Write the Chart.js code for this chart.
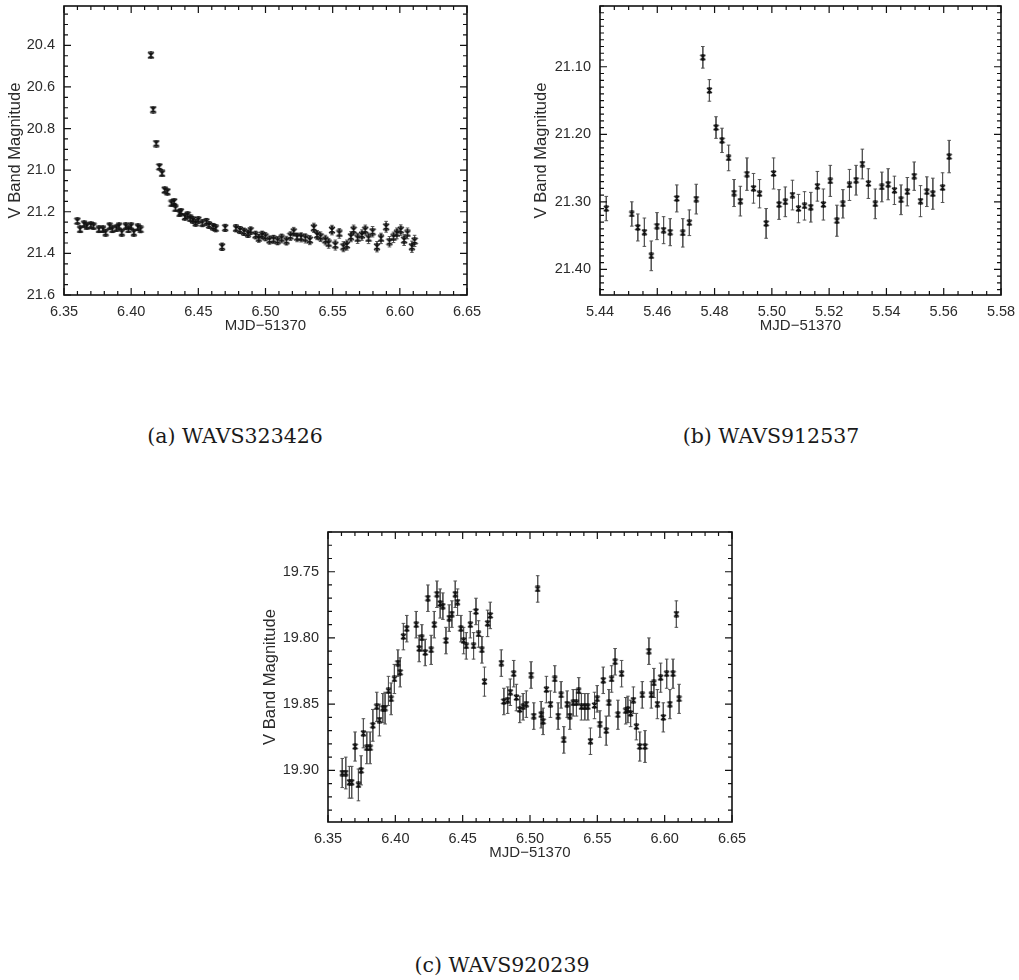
<!DOCTYPE html>
<html>
<head>
<meta charset="utf-8">
<script src="https://cdn.jsdelivr.net/npm/chart.js@4.4.1/dist/chart.umd.min.js"></script>
<style>
  body { margin: 0; background: #fff; width: 1019px; height: 980px; position: relative; overflow: hidden; }
  canvas { position: absolute; }
  .cap { position: absolute; font-family: "DejaVu Serif"; font-size: 20.5px; color: #1a1a1a;
         transform: translate(-50%, -50%); white-space: nowrap; }
</style>
</head>
<body>
<canvas id="lcA" width="489" height="335" style="left:0px;top:0px"></canvas>
<canvas id="lcB" width="499" height="335" style="left:520px;top:0px"></canvas>
<canvas id="lcC" width="504" height="336" style="left:250px;top:526px"></canvas>
<div class="cap" style="left:235px;top:436px">(a) WAVS323426</div>
<div class="cap" style="left:771px;top:436px">(b) WAVS912537</div>
<div class="cap" style="left:502px;top:965px">(c) WAVS920239</div>
<script>
// WAVS323426
const aTimes = [
  6.360, 6.362, 6.365, 6.367, 6.370, 6.372, 6.376, 6.379, 6.381, 6.384,
  6.386, 6.389, 6.391, 6.393, 6.396, 6.398, 6.400, 6.402, 6.405, 6.407,
  6.4147, 6.4164, 6.4187, 6.421, 6.423, 6.425, 6.427, 6.430, 6.432, 6.433,
  6.436, 6.437, 6.440, 6.442, 6.444, 6.446, 6.448, 6.450, 6.453, 6.456,
  6.458, 6.461, 6.463, 6.4677, 6.470, 6.478, 6.481, 6.484, 6.487, 6.489,
  6.4926, 6.495, 6.4975, 6.500, 6.503, 6.506, 6.509, 6.512, 6.5156, 6.5186,
  6.521, 6.5235, 6.5265, 6.5297, 6.533, 6.536, 6.5384, 6.541, 6.5446, 6.547,
  6.5495, 6.552, 6.555, 6.558, 6.5606, 6.5636, 6.5656, 6.5686, 6.5718, 6.5743,
  6.5767, 6.5797, 6.583, 6.586, 6.5898, 6.5923, 6.5953, 6.5978, 6.6007, 6.6032,
  6.6057, 6.609, 6.611
];
const aMags = [
  21.245, 21.285, 21.260, 21.270, 21.265, 21.270, 21.285, 21.285, 21.300, 21.270,
  21.285, 21.280, 21.270, 21.300, 21.270, 21.285, 21.270, 21.300, 21.275, 21.285,
  20.448, 20.709, 20.872, 20.984, 21.016, 21.096, 21.104, 21.160, 21.152, 21.184,
  21.208, 21.200, 21.224, 21.216, 21.232, 21.240, 21.253, 21.240, 21.256, 21.248,
  21.264, 21.272, 21.280, 21.368, 21.277, 21.280, 21.288, 21.296, 21.305, 21.290,
  21.312, 21.328, 21.312, 21.320, 21.336, 21.333, 21.339, 21.328, 21.339, 21.317,
  21.296, 21.323, 21.323, 21.328, 21.336, 21.277, 21.312, 21.320, 21.336, 21.352,
  21.288, 21.360, 21.304, 21.368, 21.360, 21.320, 21.288, 21.328, 21.312, 21.288,
  21.328, 21.296, 21.368, 21.328, 21.272, 21.344, 21.323, 21.304, 21.288, 21.336,
  21.304, 21.368, 21.340
];
const aErrs = [
  0.014, 0.015, 0.014, 0.013, 0.014, 0.014, 0.015, 0.014, 0.016, 0.014,
  0.015, 0.014, 0.014, 0.016, 0.015, 0.014, 0.015, 0.016, 0.015, 0.016,
  0.010, 0.010, 0.011, 0.012, 0.012, 0.012, 0.012, 0.013, 0.013, 0.013,
  0.014, 0.014, 0.014, 0.014, 0.015, 0.015, 0.015, 0.015, 0.016, 0.016,
  0.016, 0.016, 0.017, 0.018, 0.017, 0.017, 0.017, 0.018, 0.018, 0.018,
  0.019, 0.019, 0.019, 0.020, 0.020, 0.020, 0.020, 0.021, 0.021, 0.021,
  0.021, 0.021, 0.022, 0.022, 0.022, 0.022, 0.022, 0.023, 0.023, 0.023,
  0.023, 0.024, 0.023, 0.024, 0.024, 0.024, 0.024, 0.024, 0.025, 0.024,
  0.025, 0.025, 0.025, 0.025, 0.026, 0.025, 0.025, 0.026, 0.025, 0.026,
  0.026, 0.027, 0.027
];

// WAVS912537
const bTimes = [
  5.4422, 5.4511, 5.4532, 5.4555, 5.4579, 5.4599, 5.4622, 5.4645, 5.4668, 5.4689,
  5.4712, 5.4736, 5.4759, 5.4782, 5.4805, 5.4826, 5.4849, 5.4868, 5.4890, 5.4913,
  5.4936, 5.4957, 5.4980, 5.5006, 5.5025, 5.5047, 5.5072, 5.5093, 5.5114, 5.5136,
  5.5159, 5.5180, 5.5204, 5.5227, 5.5248, 5.5271, 5.5294, 5.5316, 5.5337, 5.5361,
  5.5384, 5.5406, 5.5428, 5.5451, 5.5473, 5.5497, 5.5519, 5.5541, 5.5562, 5.5596,
  5.5619
];
const bMags = [
  21.310, 21.318, 21.338, 21.345, 21.380, 21.336, 21.342, 21.345, 21.295, 21.346,
  21.331, 21.296, 21.086, 21.135, 21.190, 21.209, 21.235, 21.287, 21.299, 21.259,
  21.280, 21.288, 21.332, 21.258, 21.304, 21.300, 21.290, 21.310, 21.306, 21.308,
  21.277, 21.304, 21.269, 21.328, 21.303, 21.275, 21.268, 21.244, 21.273, 21.303,
  21.278, 21.274, 21.283, 21.297, 21.285, 21.262, 21.299, 21.285, 21.288, 21.279,
  21.233
];
const bErrs = [
  0.018, 0.018, 0.020, 0.021, 0.022, 0.020, 0.020, 0.020, 0.020, 0.021,
  0.019, 0.022, 0.016, 0.016, 0.016, 0.018, 0.019, 0.020, 0.022, 0.024,
  0.022, 0.021, 0.022, 0.023, 0.022, 0.022, 0.022, 0.021, 0.021, 0.022,
  0.022, 0.023, 0.023, 0.023, 0.021, 0.023, 0.022, 0.022, 0.022, 0.022,
  0.022, 0.023, 0.021, 0.022, 0.021, 0.021, 0.023, 0.022, 0.023, 0.022,
  0.024
];

// WAVS920239
const cTimes = [
  6.3606, 6.3632, 6.3659, 6.3676, 6.3701, 6.3726, 6.3746, 6.3763, 6.3788, 6.3813,
  6.3833, 6.3862, 6.3882, 6.3907, 6.3924, 6.3949, 6.3969, 6.3993, 6.4019, 6.4036,
  6.4060, 6.4085, 6.4155, 6.4177, 6.4197, 6.4222, 6.4242, 6.4266, 6.4289, 6.4309,
  6.4333, 6.4353, 6.4376, 6.4400, 6.4420, 6.4445, 6.4462, 6.4487, 6.4507, 6.4527,
  6.4557, 6.4581, 6.4599, 6.4618, 6.4643, 6.4662, 6.4685, 6.4705, 6.4787, 6.4806,
  6.4834, 6.4854, 6.4879, 6.4899, 6.4924, 6.4949, 6.4973, 6.5008, 6.5028, 6.5057,
  6.5083, 6.5097, 6.5122, 6.5152, 6.5184, 6.5209, 6.5231, 6.5251, 6.5276, 6.5296,
  6.5321, 6.5345, 6.5362, 6.5382, 6.5407, 6.5430, 6.5449, 6.5479, 6.5499, 6.5519,
  6.5544, 6.5566, 6.5586, 6.5606, 6.5632, 6.5653, 6.5680, 6.5711, 6.5727, 6.5747,
  6.5768, 6.5790, 6.5815, 6.5834, 6.5854, 6.5883, 6.5901, 6.5920, 6.5946, 6.5970,
  6.5990, 6.6015, 6.6039, 6.6062, 6.6087, 6.6107
];
const cMags = [
  19.902, 19.902, 19.909, 19.909, 19.882, 19.911, 19.900, 19.872, 19.883, 19.883,
  19.866, 19.852, 19.862, 19.853, 19.853, 19.840, 19.846, 19.831, 19.819, 19.826,
  19.799, 19.793, 19.790, 19.808, 19.800, 19.811, 19.770, 19.809, 19.790, 19.767,
  19.774, 19.776, 19.802, 19.785, 19.782, 19.767, 19.773, 19.793, 19.802, 19.806,
  19.790, 19.806, 19.780, 19.797, 19.809, 19.833, 19.789, 19.783, 19.819, 19.848,
  19.847, 19.841, 19.827, 19.845, 19.854, 19.852, 19.850, 19.828, 19.859, 19.763,
  19.858, 19.863, 19.839, 19.850, 19.831, 19.859, 19.843, 19.877, 19.850, 19.859,
  19.849, 19.849, 19.840, 19.852, 19.852, 19.852, 19.878, 19.851, 19.846, 19.865,
  19.832, 19.870, 19.849, 19.831, 19.818, 19.858, 19.827, 19.855, 19.854, 19.857,
  19.847, 19.867, 19.882, 19.843, 19.882, 19.810, 19.843, 19.834, 19.850, 19.830,
  19.860, 19.827, 19.850, 19.827, 19.782, 19.846
];
const cErrs = [
  0.011, 0.012, 0.012, 0.012, 0.011, 0.012, 0.011, 0.011, 0.012, 0.012,
  0.012, 0.011, 0.012, 0.011, 0.012, 0.011, 0.012, 0.011, 0.010, 0.011,
  0.010, 0.010, 0.010, 0.010, 0.010, 0.010, 0.010, 0.011, 0.010, 0.010,
  0.011, 0.010, 0.010, 0.010, 0.010, 0.010, 0.010, 0.010, 0.010, 0.010,
  0.010, 0.010, 0.010, 0.010, 0.010, 0.011, 0.010, 0.010, 0.010, 0.010,
  0.010, 0.010, 0.010, 0.010, 0.010, 0.010, 0.010, 0.010, 0.010, 0.010,
  0.010, 0.010, 0.010, 0.010, 0.010, 0.010, 0.010, 0.010, 0.010, 0.010,
  0.010, 0.010, 0.010, 0.010, 0.010, 0.010, 0.010, 0.010, 0.010, 0.010,
  0.010, 0.011, 0.010, 0.010, 0.010, 0.011, 0.010, 0.010, 0.010, 0.010,
  0.010, 0.010, 0.011, 0.010, 0.012, 0.010, 0.010, 0.011, 0.011, 0.011,
  0.011, 0.011, 0.011, 0.011, 0.010, 0.011
];

const INK = '#111';
const TEXT = '#2b2b2b';
const tickFont = { family: 'Liberation Sans', size: 14.5 };
const xTitleFont = { family: 'Liberation Sans', size: 15 };
const yTitleFont = { family: 'Liberation Sans', size: 16.5 };

// IDL style asterisk: an X closed top and bottom, with a vertical stroke
function asterisk(size) {
  const c = document.createElement('canvas');
  c.width = c.height = size;
  const g = c.getContext('2d');
  const e = size - 1;
  g.strokeStyle = '#111';
  g.lineWidth = 1.2;
  g.beginPath();
  g.moveTo(1, 1); g.lineTo(e, e);
  g.moveTo(e, 1); g.lineTo(1, e);
  g.moveTo(1.5, 1); g.lineTo(e - 0.5, 1);
  g.moveTo(1.5, e); g.lineTo(e - 0.5, e);
  g.moveTo(size / 2, 0); g.lineTo(size / 2, size);
  g.stroke();
  return c;
}

// box frame with inward major/minor ticks on all four sides
function idlFrame(t) {
  return {
    id: 'idlFrame',
    afterDraw(chart) {
      const { ctx, chartArea: a } = chart;
      const xs = chart.scales.x, ys = chart.scales.y;
      const marks = (scale, major, minor) => {
        const out = [];
        const k0 = Math.ceil(scale.min / minor - 1e-6);
        const k1 = Math.floor(scale.max / minor + 1e-6);
        for (let k = k0; k <= k1; k++) {
          const r = (k * minor) / major;
          out.push({ p: scale.getPixelForValue(k * minor), len: Math.abs(r - Math.round(r)) < 1e-4 ? 7 : 4 });
        }
        return out;
      };
      ctx.save();
      ctx.strokeStyle = INK;
      ctx.lineWidth = 1.2;
      for (const m of marks(xs, t.xMajor, t.xMinor)) {
        ctx.beginPath();
        ctx.moveTo(m.p, a.bottom); ctx.lineTo(m.p, a.bottom - m.len);
        ctx.moveTo(m.p, a.top); ctx.lineTo(m.p, a.top + m.len);
        ctx.stroke();
      }
      for (const m of marks(ys, t.yMajor, t.yMinor)) {
        ctx.beginPath();
        ctx.moveTo(a.left, m.p); ctx.lineTo(a.left + m.len, m.p);
        ctx.moveTo(a.right, m.p); ctx.lineTo(a.right - m.len, m.p);
        ctx.stroke();
      }
      ctx.lineWidth = 1.6;
      ctx.strokeRect(a.left, a.top, a.right - a.left, a.bottom - a.top);
      ctx.restore();
    }
  };
}

function makePanel(id, times, mags, errs, p) {
  const points = [], bars = [], caps = [];
  times.forEach((t, i) => {
    const lo = mags[i] - errs[i], hi = mags[i] + errs[i];
    points.push({ x: t, y: mags[i] });
    bars.push({ x: t, y: lo }, { x: t, y: hi }, { x: t, y: null });
    caps.push({ x: t, y: lo }, { x: t, y: hi });
  });

  new Chart(document.getElementById(id), {
    type: 'scatter',
    data: {
      datasets: [
        { type: 'line', data: bars, showLine: true, spanGaps: false, borderColor: '#555',
          borderWidth: 1, pointRadius: 0, order: 3 },
        { data: caps, pointStyle: 'line', pointRadius: 1.8, borderColor: '#555', borderWidth: 1, order: 2 },
        { data: points, pointStyle: asterisk(p.marker), pointRadius: p.marker / 2, order: 1 }
      ]
    },
    options: {
      responsive: false,
      animation: false,
      devicePixelRatio: 1,
      layout: { padding: { left: p.padL, top: p.padT, right: p.padR, bottom: 0 } },
      plugins: {
        legend: { display: false },
        tooltip: { enabled: false }
      },
      scales: {
        x: {
          type: 'linear', min: p.xMin, max: p.xMax,
          afterFit: s => { s.height = 40; s.paddingLeft = 0; s.paddingRight = 0; },
          grid: { display: false, drawTicks: false },
          border: { display: false },
          ticks: { stepSize: p.ticks.xMajor, padding: 8, font: tickFont, color: TEXT,
                   includeBounds: false, maxRotation: 0, callback: v => v.toFixed(2) },
          title: { display: true, text: 'MJD\u221251370', font: xTitleFont, color: TEXT, padding: 0 }
        },
        y: {
          reverse: true, min: p.yMin, max: p.yMax,
          afterFit: s => { s.width = p.yWidth; s.paddingTop = 0; s.paddingBottom = 0; },
          grid: { display: false, drawTicks: false },
          border: { display: false },
          ticks: { stepSize: p.ticks.yMajor, padding: 9, font: tickFont, color: TEXT,
                   includeBounds: false, callback: v => v.toFixed(p.yDigits) },
          title: { display: true, text: 'V Band Magnitude', font: yTitleFont, color: TEXT, padding: 0 }
        }
      }
    },
    plugins: [idlFrame(p.ticks)]
  });
}

makePanel('lcA', aTimes, aMags, aErrs, {
  xMin: 6.35, xMax: 6.65, yMin: 20.211, yMax: 21.6, yDigits: 1,
  padL: 6, padT: 6, padR: 22, yWidth: 58, marker: 8,
  ticks: { xMajor: 0.05, xMinor: 0.01, yMajor: 0.2, yMinor: 0.05 }
});
makePanel('lcB', bTimes, bMags, bErrs, {
  xMin: 5.44, xMax: 5.58, yMin: 21.01, yMax: 21.438, yDigits: 2,
  padL: 12, padT: 6, padR: 18, yWidth: 68, marker: 7,
  ticks: { xMajor: 0.02, xMinor: 0.005, yMajor: 0.1, yMinor: 0.01 }
});
makePanel('lcC', cTimes, cMags, cErrs, {
  xMin: 6.35, xMax: 6.65, yMin: 19.72, yMax: 19.939, yDigits: 2,
  padL: 11, padT: 6, padR: 22, yWidth: 67, marker: 7,
  ticks: { xMajor: 0.05, xMinor: 0.01, yMajor: 0.05, yMinor: 0.01 }
});
</script>
</body>
</html>
